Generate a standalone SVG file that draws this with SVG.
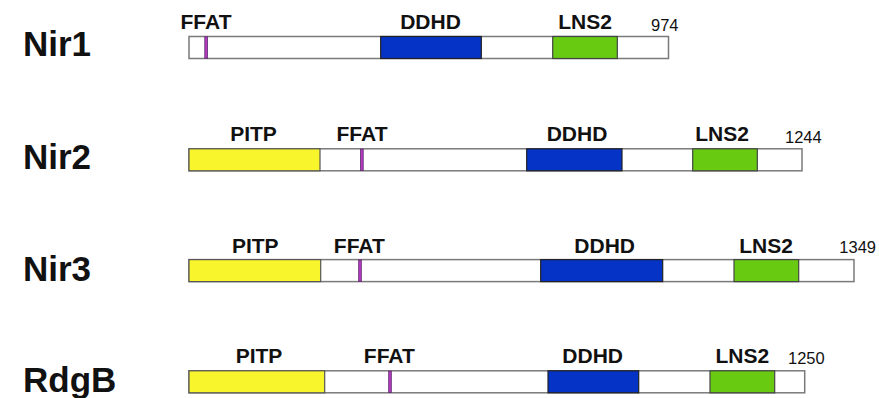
<svg xmlns="http://www.w3.org/2000/svg" width="879" height="398" viewBox="0 0 879 398">
  <style>
    .name { font-family: "Liberation Sans", Arial, sans-serif; font-weight: bold; font-size: 35px; fill: #111; }
    .dom { font-family: "Liberation Sans", Arial, sans-serif; font-weight: bold; font-size: 21px; fill: #111; text-anchor: middle; }
    .len { font-family: "Liberation Sans", Arial, sans-serif; font-size: 16.5px; fill: #111; }
    .bar { fill: #ffffff; stroke: #7a7a7a; stroke-width: 1.5; }
    .pitp { fill: #f9f52c; stroke: #555; stroke-width: 1.2; }
    .ddhd { fill: #0433c6; stroke: #222; stroke-width: 1.2; }
    .lns2 { fill: #68cb12; stroke: #444; stroke-width: 1.2; }
    .ffat { fill: #b43cc4; stroke: #5a2468; stroke-width: 0.8; }
  </style>
  <rect width="879" height="398" fill="#ffffff"/>

  <!-- Nir1 -->
  <g id="nir1">
    <text class="name" x="23" y="56">Nir1</text>
    <rect class="bar" x="189" y="36.5" width="479.5" height="22"/>
    <rect class="ffat" x="204.8" y="36.8" width="2.6" height="21.4"/>
    <rect class="ddhd" x="380.7" y="36.5" width="100.6" height="22"/>
    <rect class="lns2" x="552.7" y="36.5" width="64.6" height="22"/>
    <text class="dom" x="206" y="29">FFAT</text>
    <text class="dom" x="430.5" y="29">DDHD</text>
    <text class="dom" x="585" y="29">LNS2</text>
    <text class="len" x="651" y="31">974</text>
  </g>

  <!-- Nir2 -->
  <g id="nir2">
    <text class="name" x="23" y="169">Nir2</text>
    <rect class="bar" x="189" y="148.8" width="613" height="22"/>
    <rect class="pitp" x="189" y="148.8" width="131" height="22"/>
    <rect class="ffat" x="360.6" y="149.1" width="2.6" height="21.4"/>
    <rect class="ddhd" x="526.7" y="148.8" width="95.3" height="22"/>
    <rect class="lns2" x="692.7" y="148.8" width="64.6" height="22"/>
    <text class="dom" x="253.5" y="141.3">PITP</text>
    <text class="dom" x="362" y="141.3">FFAT</text>
    <text class="dom" x="577" y="141.3">DDHD</text>
    <text class="dom" x="722" y="141.3">LNS2</text>
    <text class="len" x="785" y="143">1244</text>
  </g>

  <!-- Nir3 -->
  <g id="nir3">
    <text class="name" x="23" y="281.3">Nir3</text>
    <rect class="bar" x="189" y="259.6" width="665" height="22"/>
    <rect class="pitp" x="189" y="259.6" width="131.7" height="22"/>
    <rect class="ffat" x="358.7" y="259.9" width="2.6" height="21.4"/>
    <rect class="ddhd" x="540.7" y="259.6" width="122" height="22"/>
    <rect class="lns2" x="734" y="259.6" width="64.7" height="22"/>
    <text class="dom" x="255.3" y="252.7">PITP</text>
    <text class="dom" x="359.3" y="252.7">FFAT</text>
    <text class="dom" x="604.7" y="252.7">DDHD</text>
    <text class="dom" x="766" y="252.7">LNS2</text>
    <text class="len" x="839.3" y="253.3">1349</text>
  </g>

  <!-- RdgB -->
  <g id="rdgb">
    <text class="name" x="23" y="392">RdgB</text>
    <rect class="bar" x="189" y="370.8" width="615.7" height="22"/>
    <rect class="pitp" x="189" y="370.8" width="135.7" height="22"/>
    <rect class="ffat" x="388.7" y="371.1" width="2.6" height="21.4"/>
    <rect class="ddhd" x="548" y="370.8" width="90.7" height="22"/>
    <rect class="lns2" x="710" y="370.8" width="64.7" height="22"/>
    <text class="dom" x="259" y="363.3">PITP</text>
    <text class="dom" x="389.3" y="363.3">FFAT</text>
    <text class="dom" x="592.7" y="363.3">DDHD</text>
    <text class="dom" x="742.3" y="363.3">LNS2</text>
    <text class="len" x="788" y="364">1250</text>
  </g>
</svg>
